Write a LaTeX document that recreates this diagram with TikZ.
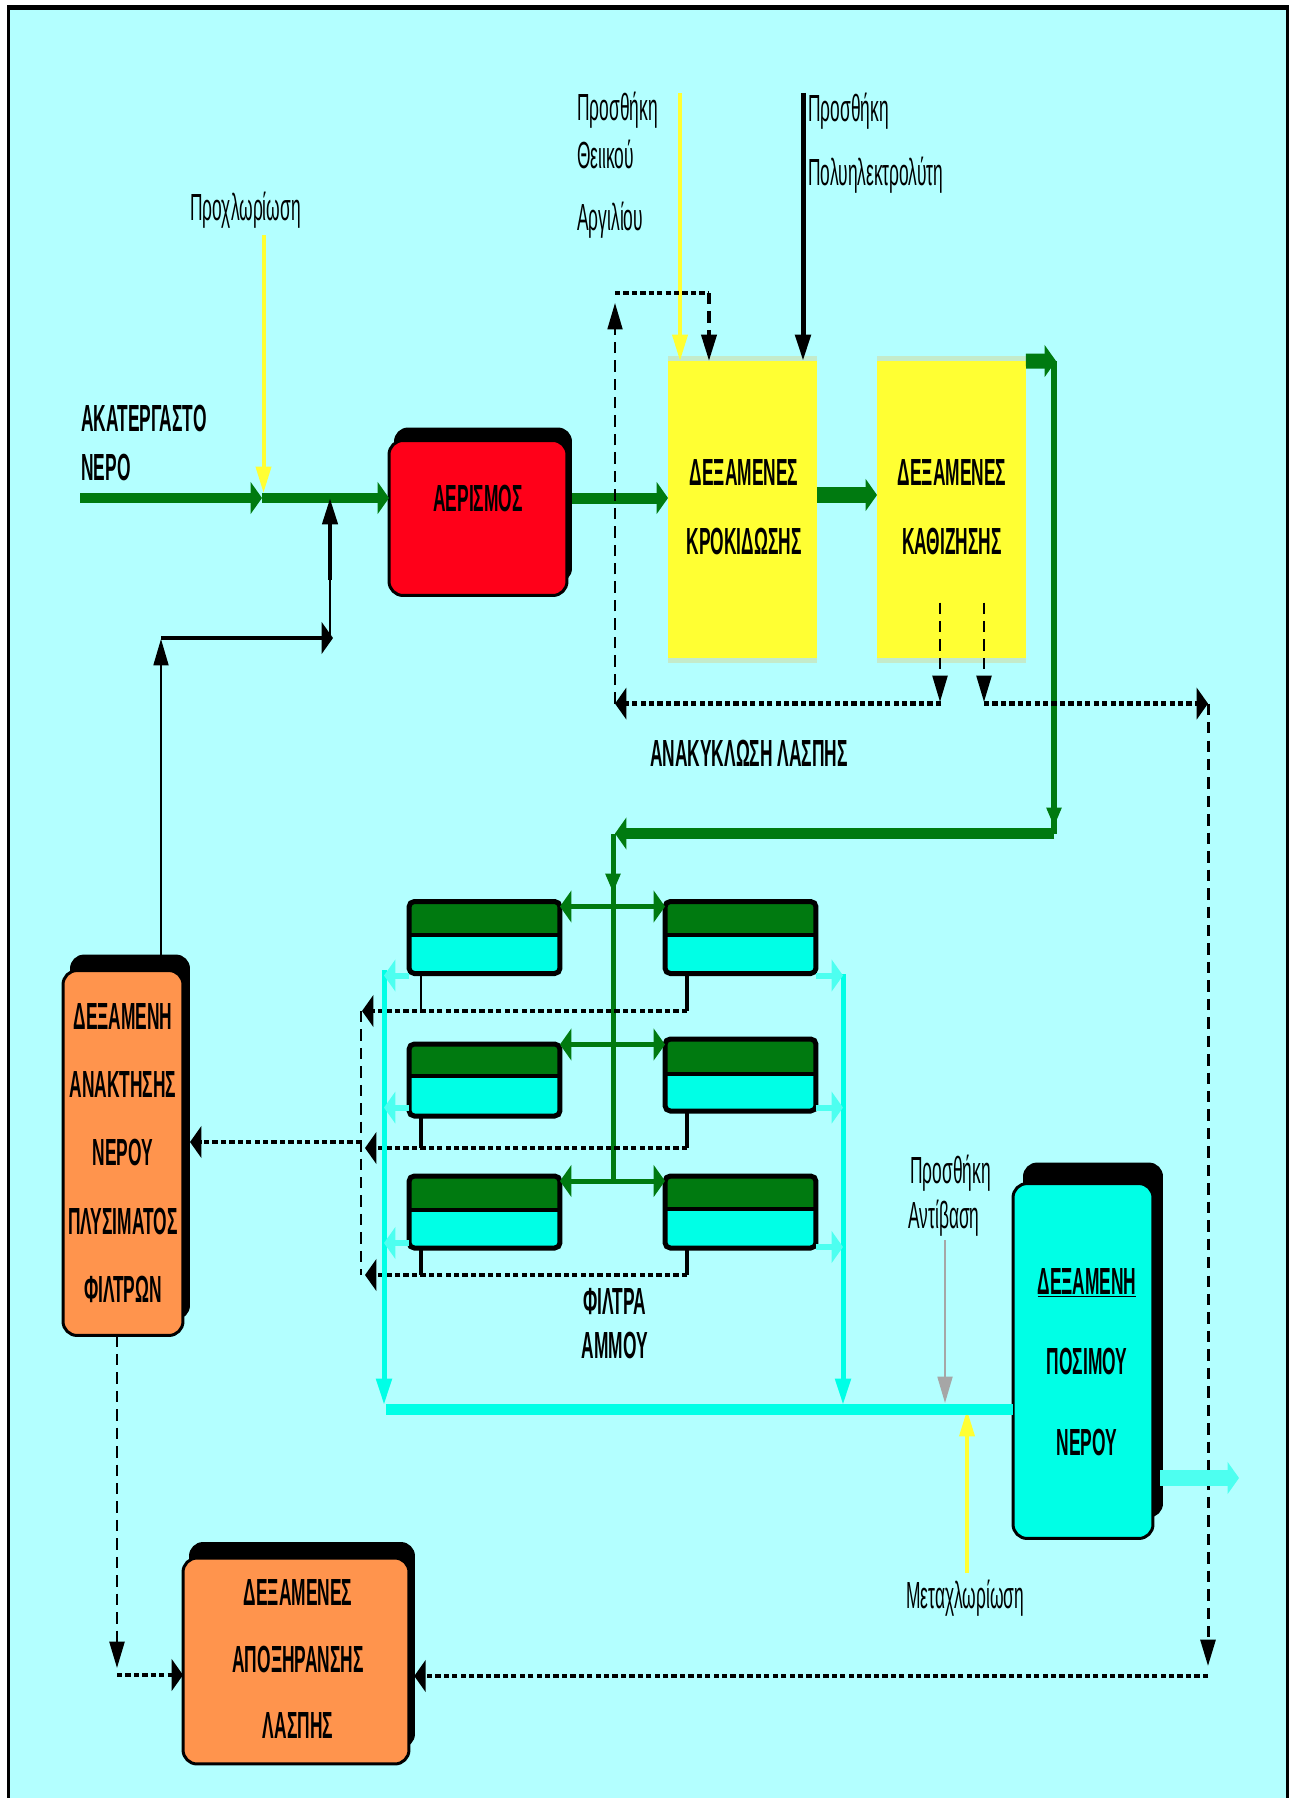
\documentclass[tikz,border=0pt]{standalone}
\usepackage{fontspec}
\newfontfamily\diagfont[FakeStretch=0.46]{Liberation Sans}
\usetikzlibrary{arrows.meta,shadows}
\newcommand{\px}{0.569pt}
\definecolor{sky}{HTML}{B3FFFF}
\definecolor{pipegreen}{HTML}{007A10}
\definecolor{basinyellow}{HTML}{FFFF33}
\definecolor{palerim}{HTML}{C4EBCB}
\definecolor{aerred}{HTML}{FF0019}
\definecolor{sludge}{HTML}{FF944D}
\definecolor{clear}{HTML}{00FFE6}
\definecolor{clearpale}{HTML}{4DFFF0}
\tikzset{
  hhead/.tip={Triangle[length=6.5pt,width=18pt]},
  vhead/.tip={Triangle[length=15pt,width=8.5pt]},
  ghead/.tip={Triangle[length=11pt,width=8pt]},
  tankbox/.style n args={4}{draw=black,line width=3*\px,rounded corners=8pt,outer sep=0pt,
    minimum width=#1*\px,minimum height=#2*\px,
    general shadow={fill=black,shadow xshift=#3*\px,shadow yshift=#4*\px}},
  basin/.style={fill=basinyellow,outer sep=0pt,inner sep=0pt,minimum width=149*\px,minimum height=297*\px,
    general shadow={fill=palerim,shadow yshift=5*\px},general shadow={fill=palerim,shadow yshift=-5*\px}},
  filterbox/.style={draw=black,fill=clear,line width=5*\px,rounded corners=3pt,outer sep=0pt,
    minimum width=151*\px,minimum height=72*\px},
  capslabel/.style={font=\diagfont\bfseries\fontsize{21.5pt}{#1}\selectfont,align=center,inner sep=0pt},
  notelabel/.style={font=\diagfont\fontsize{21.5pt}{24pt}\selectfont,inner sep=0pt},
  pipe/.style={draw=pipegreen,line width=#1*\px},
  collector/.style={draw=clear,line width=5*\px},
  branch/.style={draw=clearpale,line width=6*\px},
  dosing/.style={draw=basinyellow,line width=4*\px},
  solid line/.style={draw=black,line width=#1*\px},
  sparse/.style={draw=black,line width=#1*\px,dash pattern=on 6.5pt off 4pt},
  dotline/.style={draw=black,line width=4.5*\px,dash pattern=on 3pt off 1.8pt},
}
\begin{document}
\begin{tikzpicture}[x=0.02cm,y=-0.02cm]
\useasboundingbox (0,0) rectangle (1296,1798);
\fill[black] (7,5) rectangle (1289,1798);
\fill[sky] (10,10) rectangle (1286,1798);
% tanks
\node[tankbox={178}{155}{5}{13},fill=aerred] (aer) at (478,518) {};
\node[basin] (crock) at (742.5,509.5) {};
\node[basin] (settle) at (951.5,509.5) {};
\node[tankbox={120}{365}{7}{16},fill=sludge] (recov) at (123,1153) {};
\node[tankbox={140}{355}{10}{21},fill=clear] (drink) at (1083,1361) {};
\node[tankbox={226}{206}{6}{16},fill=sludge] (dry) at (296,1661) {};
% sand filters
\foreach \name/\xpos/\ypos/\split in {fa/484.5/937.5/33,fb/740.5/937.5/33,fc/484.5/1080/32,fd/740.5/1075/35,fe/484.5/1212/34,ff/740.5/1212/33}{
  \node[filterbox,path picture={
    \fill[pipegreen] (path picture bounding box.north west) rectangle ([yshift=-\split*\px]path picture bounding box.north east);
    \draw[black,line width=4*\px] ([yshift=-\split*\px]path picture bounding box.north west) -- ([yshift=-\split*\px]path picture bounding box.north east);
  }] (\name) at (\xpos,\ypos) {};
}
% raw water line
\coordinate (rawstart) at (80,498);
\coordinate (chlor) at (262,498);
\coordinate (backwash) at (330,498);
\draw[pipe=10,-hhead] (rawstart) -- (chlor);
\draw[pipe=10,-hhead] (chlor) -- (aer.west |- chlor);
\draw[pipe=11,-hhead,shorten <=3pt] (aer.east |- chlor) -- (crock.west |- chlor);
\draw[pipe=16,-hhead] (crock.east |- 0,495) -- (settle.west |- 0,495);
% chemicals
\coordinate (prechl) at (263.5,235);
\coordinate (alum) at (680,93);
\coordinate (poly) at (803,93);
\coordinate (lime) at (945,1240);
\coordinate (postchl) at (967,1573);
\draw[dosing,-vhead] (prechl) -- (263.5,493);
\draw[dosing,-vhead] (alum) -- (crock.north -| alum);
\draw[solid line=5,-vhead] (poly) -- (crock.north -| poly);
\draw[draw=black!35,line width=2*\px,-vhead] (lime) -- (945,1403);
\draw[dosing,-vhead] (postchl) -- (967,1410);
% settled water to the filters
\coordinate (riseR) at (1054,361);
\coordinate (riseB) at (1054,833.5);
\coordinate (feed) at (613,833.5);
\draw[pipe=15,-hhead] (settle.north east) -- (1056,361);
\draw[pipe=6.5] (riseR) -- (riseB);
\draw[pipe=6.5,-ghead] (riseR) -- (1054,827);
\draw[pipe=11,-hhead] (riseB) -- (615,833.5);
\draw[pipe=5] (feed) -- (613,1181);
\draw[pipe=5,-ghead] (feed) -- (613,893);
\foreach \left/\right/\ypos in {fa/fb/906.5,fc/fd/1044.5,fe/ff/1181}{
  \draw[pipe=5,-hhead] (613,\ypos) -- (\left.east |- 0,\ypos);
  \draw[pipe=5,-hhead] (613,\ypos) -- (\right.west |- 0,\ypos);
}
% sludge recycle
\coordinate (sludgeA) at (940,602.5);
\coordinate (sludgeB) at (984,602.5);
\coordinate (recycL) at (615,703.6);
\coordinate (recycT) at (615,293);
\coordinate (recycR) at (709,293);
\coordinate (outR) at (1208,703.6);
\coordinate (outB) at (1208,1676);
\draw[sparse=2.5,-vhead] (sludgeA) -- (940,702);
\draw[sparse=2.5,-vhead] (sludgeB) -- (984,702);
\draw[dotline,-hhead] (941,703.6) -- (recycL);
\draw[dotline,-hhead] (984,703.6) -- (outR);
\draw[sparse=2,-vhead] (recycL) -- (615,303);
\draw[dotline] (recycT) -- (recycR);
\draw[sparse=4,-vhead] (recycR) -- (crock.north -| recycR);
\draw[sparse=3,-vhead] (outR) -- (1208,1666);
\draw[dotline,-hhead,shorten >=3pt] (outB) -- (dry.east |- outB);
% filter drains
\foreach \left/\right/\ypos/\tip/\wid in {fa/fb/1011/362/2,fc/fd/1148/365/4,fe/ff/1275/365/4}{
  \draw[solid line=\wid] (\left.south -| 421,0) -- (421,\ypos);
  \draw[solid line=4] (\right.south -| 687,0) -- (687,\ypos);
  \draw[dotline,-hhead] (687,\ypos) -- (\tip,\ypos);
}
\coordinate (washjoin) at (361,1142);
\draw[sparse=2] (361,1011) -- (361,1275);
\draw[dotline,-hhead,shorten >=4pt] (washjoin) -- (recov.east |- washjoin);
% wash water tank
\coordinate (retA) at (161,638);
\coordinate (retB) at (330,638);
\draw[solid line=2,-vhead] (recov.north -| retA) -- (161,639);
\draw[solid line=4.5,-hhead] (retA) -- (333,638);
\draw[solid line=2] (retB) -- (330,580);
\draw[solid line=4.5,-vhead] (330,580) -- (backwash);
\draw[sparse=2.5,-vhead] (recov.south -| 117,0) -- (117,1668);
\draw[dotline,-hhead] (117,1675) -- (dry.west |- 0,1675);
% clear water
\coordinate (mainL) at (384,1409);
\draw[collector,-vhead] (384,970) -- (384,1405);
\draw[collector,-vhead] (843,974) -- (843,1405);
\draw[draw=clear,line width=11*\px] (386,1409) -- (drink.west |- mainL);
\foreach \tank/\ypos in {fa/975.5,fc/1107.6,fe/1243}{
  \draw[branch,-hhead] (\tank.west |- 0,\ypos) -- (384,\ypos);
}
\foreach \tank/\ypos in {fb/975.5,fd/1107.6,ff/1247}{
  \draw[branch,-hhead] (\tank.east |- 0,\ypos) -- (843,\ypos);
}
\draw[draw=clearpale,line width=16*\px,-hhead] (1160,1478) -- (1239,1478);
% labels
\node[capslabel=27.9pt,align=left,anchor=west] (rawlab) at (81,443) {ΑΚΑΤΕΡΓΑΣΤΟ\\ΝΕΡΟ};
\node[capslabel=24pt] (aerlab) at (478,498) {ΑΕΡΙΣΜΟΣ};
\node[capslabel=39.3pt] (crocklab) at (744,507) {ΔΕΞΑΜΕΝΕΣ\\ΚΡΟΚΙΔΩΣΗΣ};
\node[capslabel=39.3pt] (settlelab) at (952,507) {ΔΕΞΑΜΕΝΕΣ\\ΚΑΘΙΖΗΣΗΣ};
\node[capslabel=24pt] (recyclab) at (749,753) {ΑΝΑΚΥΚΛΩΣΗ ΛΑΣΠΗΣ};
\node[capslabel=38.9pt] (recovlab) at (123,1153) {ΔΕΞΑΜΕΝΗ\\ΑΝΑΚΤΗΣΗΣ\\ΝΕΡΟΥ\\ΠΛΥΣΙΜΑΤΟΣ\\ΦΙΛΤΡΩΝ};
\node[capslabel=25pt] (filterlab) at (615,1324) {ΦΙΛΤΡΑ\\ΑΜΜΟΥ};
\node[capslabel=45.8pt] (drinklab) at (1087,1362) {\underline{ΔΕΞΑΜΕΝΗ}\\ΠΟΣΙΜΟΥ\\ΝΕΡΟΥ};
\node[capslabel=37.6pt] (drylab) at (298,1659) {ΔΕΞΑΜΕΝΕΣ\\ΑΠΟΞΗΡΑΝΣΗΣ\\ΛΑΣΠΗΣ};
\node[notelabel,anchor=base west] (prelab) at (190,220) {Προχλωρίωση};
\node[notelabel,anchor=base west] (alumlaba) at (577,120) {Προσθήκη};
\node[notelabel,anchor=base west] (alumlabb) at (577,168) {Θειικού};
\node[notelabel,anchor=base west] (alumlabc) at (577,230) {Αργιλίου};
\node[notelabel,anchor=base west] (polylaba) at (808,122) {Προσθήκη};
\node[notelabel,anchor=base west] (polylabb) at (808,185) {Πολυηλεκτρολύτη};
\node[notelabel,anchor=base west] (limelaba) at (910,1183) {Προσθήκη};
\node[notelabel,anchor=base west] (limelabb) at (908,1228) {Αντίβαση};
\node[notelabel,anchor=base west] (postlab) at (906,1608) {Μεταχλωρίωση};
\end{tikzpicture}
\end{document}
